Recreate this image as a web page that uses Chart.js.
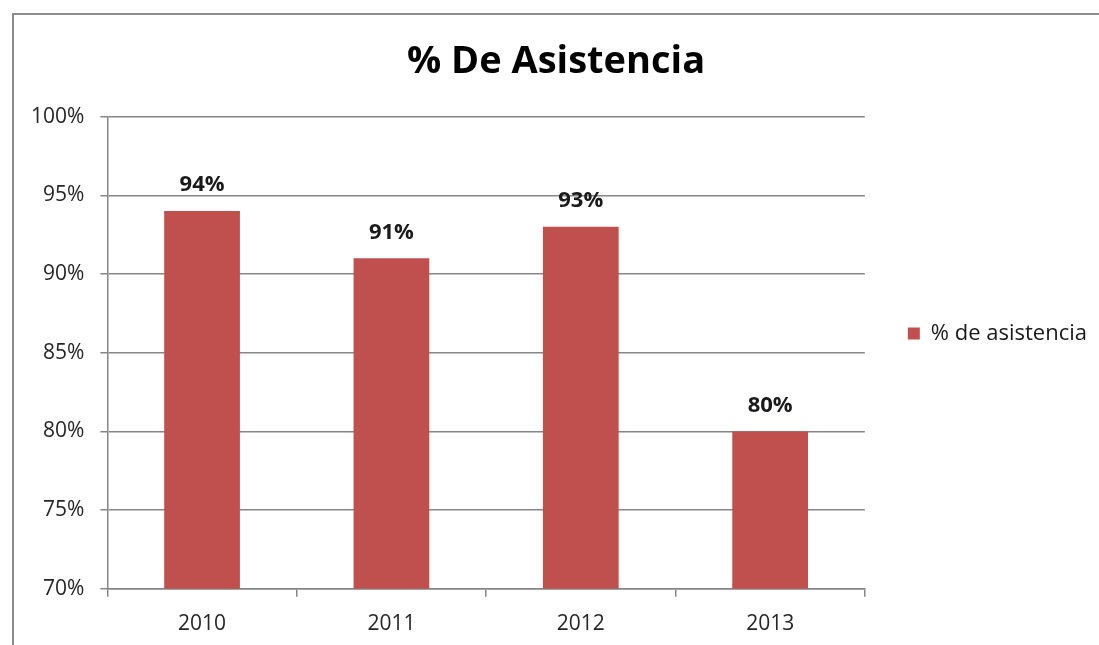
<!DOCTYPE html>
<html lang="es">
  <head>
    <meta charset="UTF-8" />
    <title>% De Asistencia</title>
    <script src="https://cdn.jsdelivr.net/npm/chart.js"></script>
    <style>
      html, body { margin: 0; background: #fff; overflow: hidden; }
      #frame {
        position: absolute; left: 12px; top: 13px;
        width: 1083px; height: 640px;
        border-left: 2px solid #8c8c8c; border-top: 2px solid #8c8c8c;
      }
      #frame::after {
        content: ''; position: absolute; top: -2px; left: 1083px;
        width: 40px; height: 2px; background: #8c8c8c;
      }
    </style>
  </head>
  <body>
    <div id="frame"><canvas id="asistenciaChart"></canvas></div>
    <script>
      const years = ['2010', '2011', '2012', '2013'];
      const asistencia = [94, 91, 93, 80];
      const yMin = 70, yMax = 100, yStep = 5;

      const fontFamily = '"Open Sans", "Liberation Sans", sans-serif';

      // etiquetas encima de cada barra
      const barLabels = {
        id: 'barLabels',
        afterDatasetsDraw(chart) {
          const ctx = chart.ctx;
          ctx.save();
          ctx.font = 'bold 22px ' + fontFamily;
          ctx.fillStyle = '#1a1a1a';
          ctx.textAlign = 'center';
          ctx.textBaseline = 'middle';
          chart.getDatasetMeta(0).data.forEach((bar, i) => {
            ctx.fillText(asistencia[i] + '%', bar.x, bar.y - 26);
          });
          ctx.restore();
        }
      };

      const ctx = document.getElementById('asistenciaChart').getContext('2d');
      new Chart(ctx, {
        type: 'bar',
        data: {
          labels: years,
          datasets: [
            {
              label: '% de asistencia',
              data: asistencia,
              backgroundColor: '#C0504D',
              barPercentage: 0.4,
              categoryPercentage: 1
            }
          ]
        },
        options: {
          responsive: true,
          maintainAspectRatio: false,
          animation: false,
          layout: { padding: { left: 1, right: 0, top: 0, bottom: 3 } },
          plugins: {
            title: {
              display: true,
              text: '% De Asistencia',
              color: '#000',
              font: { family: fontFamily, size: 38, weight: 'bold' },
              padding: { top: 24, bottom: 32 }
            },
            legend: {
              position: 'right',
              labels: {
                color: '#1a1a1a',
                font: { family: fontFamily, size: 22 },
                boxWidth: 12,
                boxHeight: 12,
                padding: 43
              }
            },
            tooltip: { enabled: false }
          },
          scales: {
            y: {
              min: yMin,
              max: yMax,
              ticks: {
                stepSize: yStep,
                color: '#262626',
                font: { family: fontFamily, size: 21 },
                padding: 16,
                callback: (v) => v + '%'
              },
              grid: { color: '#868686', lineWidth: 1.5, tickLength: 7 },
              border: { color: '#868686', width: 1.5 }
            },
            x: {
              ticks: {
                color: '#262626',
                font: { family: fontFamily, size: 21 },
                padding: 15
              },
              grid: {
                drawOnChartArea: false,
                color: '#868686',
                lineWidth: 1.5,
                tickLength: 8
              },
              border: { color: '#868686', width: 1.5 }
            }
          }
        },
        plugins: [barLabels]
      });
    </script>
  </body>
</html>
